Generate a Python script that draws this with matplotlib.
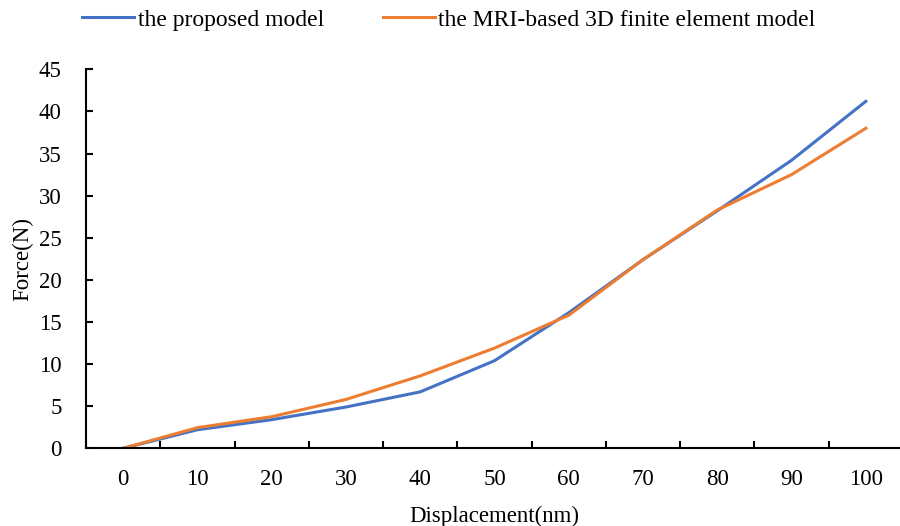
import numpy as np
from matplotlib import pyplot as plt

plt.rcParams['font.family'] = ['Liberation Serif', 'DejaVu Serif']

displacement = ['0', '10', '20', '30', '40', '50', '60', '70', '80', '90', '100']
proposed = [0, 2.2, 3.4, 4.9, 6.7, 10.4, 16.1, 22.4, 28.2, 34.2, 41.2]
fem = [0, 2.45, 3.75, 5.8, 8.6, 11.9, 15.8, 22.4, 28.3, 32.5, 38.0]
yticks = [0, 5, 10, 15, 20, 25, 30, 35, 40, 45]

fig = plt.figure(figsize=(9, 5.26), dpi=100)
ax = fig.add_axes([86/900, 1-448.3/526, 817/900, (448.3-69.3)/526])

x = np.arange(len(displacement))
ax.plot(x, proposed, color='#4472C4', lw=2.2, label='the proposed model')
ax.plot(x, fem, color='#ED7D31', lw=2.2, label='the MRI-based 3D finite element model')

ax.set_xlim(-0.5, len(displacement) - 0.5)
ax.set_ylim(0, 45)
ax.set_yticks(yticks)
ax.set_xticks(x)
ax.set_xticklabels(displacement)
ax.set_xticks(np.arange(len(displacement) + 1) - 0.5, minor=True)
ax.tick_params(axis='x', which='major', length=0, pad=15, labelsize=16.5)
ax.tick_params(axis='x', which='minor', direction='in', length=5, width=1.5)
ax.tick_params(axis='y', direction='in', length=5, width=1.5, pad=17.5, labelsize=16.5)

for s in ['top', 'right']:
    ax.spines[s].set_visible(False)
for s in ['left', 'bottom']:
    ax.spines[s].set_linewidth(1.5)

ax.set_xlabel('Displacement(nm)', fontsize=16.5, labelpad=11)
ax.set_ylabel('Force(N)', fontsize=16.5, labelpad=4)

fig.legend(loc='center', bbox_to_anchor=(449/900, 1-20/526), ncol=2, frameon=False,
           fontsize=17, handlelength=2.2, handletextpad=0.15, columnspacing=2.5)

fig.savefig('out.png', dpi=100)
